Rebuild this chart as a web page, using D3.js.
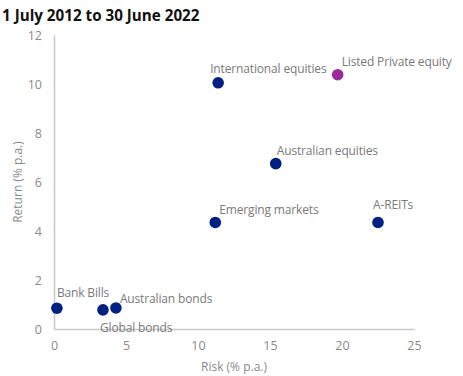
<!DOCTYPE html>
<html lang="en">
<head>
<meta charset="UTF-8">
<title>Risk and return</title>
<script src="https://cdn.jsdelivr.net/npm/d3@7"></script>
<style>
    body{ margin:0; background:white; }
    text{ font-family:"Open Sans", sans-serif; }
</style>
</head>
<body>
<svg id="chart"></svg>
<script>
    const w = 463, h = 376;

    // data
    const assets = ["Bank Bills","Global bonds","Australian bonds","Emerging markets","A-REITs","Australian equities","International equities","Listed Private equity"];
    const risk   = [0.2, 3.4, 4.3, 11.2, 22.5, 15.4, 11.4, 19.7];
    const ret    = [0.85, 0.78, 0.86, 4.35, 4.35, 6.75, 10.05, 10.38];
    const colors = ["#002082","#002082","#002082","#002082","#002082","#002082","#002082","#9b2b9b"];
    // label offsets from the point (dx, dy)
    const labelOff = [[0,-11],[-3,22],[4,-5],[4,-8],[-5,-13],[1,-9],[-8,-10],[4,-9]];
    const xTicks = [0,5,10,15,20,25];
    const yTicks = [0,2,4,6,8,10,12];

    const m = {left:54, right:49, top:35, bottom:47};
    const svg = d3.select('#chart').attr('width',w).attr('height',h);

    const x = d3.scaleLinear().domain([0,25]).range([m.left, w-m.right]);
    const y = d3.scaleLinear().domain([0,12]).range([h-m.bottom, m.top]);

    svg.append('text')
        .attr('x',2).attr('y',21)
        .attr('font-size','15.2px').attr('font-weight','bold').attr('fill','#111')
        .text('1 July 2012 to 30 June 2022');

    // axes
    const gx = svg.append('g').attr('transform','translate(0,'+y(0)+')')
        .call(d3.axisBottom(x).tickValues(xTicks).tickSize(0).tickPadding(12));
    const gy = svg.append('g').attr('transform','translate('+x(0)+',0)')
        .call(d3.axisLeft(y).tickValues(yTicks).tickSize(0).tickPadding(12));
    [gx,gy].forEach(g=>{
        g.select('.domain').attr('stroke','#c8c8c8').attr('stroke-width',1.5);
        g.selectAll('text').attr('fill','#8a8a8a').attr('font-size','12.5px').attr('font-family','"Open Sans", sans-serif');
    });

    svg.append('text')
        .attr('x',(x(0)+x(25))/2).attr('y',371)
        .attr('text-anchor','middle').attr('font-size','12px').attr('fill','#8a8a8a')
        .text('Risk (% p.a.)');
    svg.append('text')
        .attr('transform','translate(22,'+((y(0)+y(12))/2)+') rotate(-90)')
        .attr('text-anchor','middle').attr('font-size','12px').attr('fill','#8a8a8a')
        .text('Return (% p.a.)');

    const pts = svg.append('g').selectAll('g').data(assets).join('g');
    pts.append('circle')
        .attr('cx',(d,i)=>x(risk[i])).attr('cy',(d,i)=>y(ret[i]))
        .attr('r',5.8).attr('fill',(d,i)=>colors[i]);
    pts.append('text')
        .attr('x',(d,i)=>x(risk[i])+labelOff[i][0]).attr('y',(d,i)=>y(ret[i])+labelOff[i][1])
        .attr('font-size','12px').attr('fill','#7a7a7a').attr('letter-spacing','-0.15px')
        .text(d=>d);
</script>
</body>
</html>
